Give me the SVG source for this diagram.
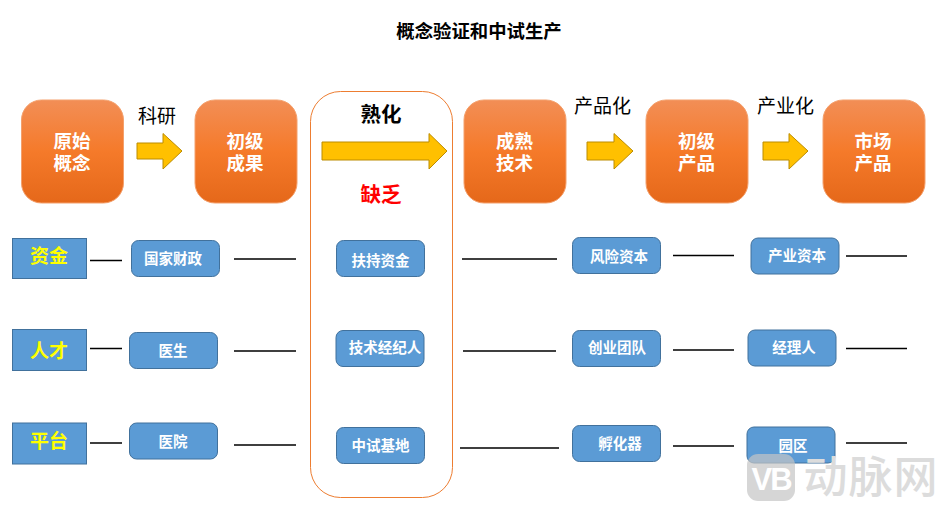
<svg xmlns="http://www.w3.org/2000/svg" width="946" height="511" viewBox="0 0 946 511">
<defs>
<linearGradient id="og" x1="0" y1="0" x2="0" y2="1"><stop offset="0" stop-color="#f28e56"/><stop offset="0.5" stop-color="#f57a2a"/><stop offset="1" stop-color="#e5681a"/></linearGradient>
</defs>
<style>
text{font-family:"Noto Sans CJK SC","Liberation Sans",sans-serif;text-anchor:middle}
.o{fill:url(#og);stroke:#f4a06c;stroke-width:1}
.ot{fill:#fff;font-size:18.500px;font-weight:700}
.b{fill:#5b9bd5;stroke:#41719c;stroke-width:1}
.bt{fill:#fff;font-size:14.500px;font-weight:700}
.c{fill:#5b9bd5;stroke:#41719c;stroke-width:1}
.ct{fill:#ff0;font-size:19px;font-weight:700}
.a{fill:#ffc000;stroke:#bc8c00;stroke-width:1}
.l{font-size:19px;fill:#000}
.ln{stroke:#000;stroke-width:1.3;fill:none}
</style>
<rect width="946" height="511" fill="#fff"/>
<text id="title" x="479" y="38" style="font-size:18.400px;font-weight:700">概念验证和中试生产</text>
<g id="mature-panel">
<rect x="310.500" y="91.500" width="142" height="406" rx="30" fill="#fff" stroke="#ed7d31" stroke-width="1"/>
<text x="381" y="121.500" style="font-size:20.500px;font-weight:700">熟化</text>
<text x="381" y="201.500" style="font-size:20.500px;font-weight:700;fill:#f00">缺乏</text>
</g>
<g id="connectors">
<path class="a" d="M137 143H163V133.500L182 151L163 169V159H137Z"/>
<path class="a" d="M322 142H429V133.500L447 151L429 169V160H322Z"/>
<path class="a" d="M587 142H614V133.500L633 151L614 169V160H587Z"/>
<path class="a" d="M763 142H789V133.500L808 151L789 169V160H763Z"/>
<path class="ln" d="M90 260.500H122M234 259H296M462 259H557M673 255.500H734M846 256H907"/>
<path class="ln" d="M90 348.500H122M234 351H296M463 351H556M673 350H734M846 348.500H907"/>
<path class="ln" d="M90 443H122M234 445H296M460 448H559M673 446H734M846 443H907"/>
</g>
<g id="n1"><rect class="o" x="21.500" y="100" width="102" height="103" rx="20"/><text class="ot" y="148"><tspan x="72">原始</tspan><tspan x="72" dy="22">概念</tspan></text></g>
<g id="n2"><rect class="o" x="195" y="100" width="102" height="103" rx="20"/><text class="ot" y="148"><tspan x="245">初级</tspan><tspan x="245" dy="22">成果</tspan></text></g>
<g id="n3"><rect class="o" x="464" y="100" width="102" height="103" rx="20"/><text class="ot" y="148"><tspan x="514.500">成熟</tspan><tspan x="514.500" dy="22">技术</tspan></text></g>
<g id="n4"><rect class="o" x="646" y="100" width="102" height="103" rx="20"/><text class="ot" y="148"><tspan x="696.500">初级</tspan><tspan x="696.500" dy="22">产品</tspan></text></g>
<g id="n5"><rect class="o" x="823" y="100" width="102" height="103" rx="20"/><text class="ot" y="148"><tspan x="873">市场</tspan><tspan x="873" dy="22">产品</tspan></text></g>
<g id="labels">
<text class="l" x="157" y="122.500">科研</text>
<text class="l" x="602.500" y="113">产品化</text>
<text class="l" x="785.500" y="113">产业化</text>
</g>
<g id="c1"><rect class="c" x="12.500" y="238.500" width="74" height="40"/><text class="ct" x="49" y="263">资金</text></g>
<g id="c2"><rect class="c" x="12.500" y="329.500" width="74" height="41"/><text class="ct" x="49" y="358">人才</text></g>
<g id="c3"><rect class="c" x="12.500" y="423" width="74" height="41"/><text class="ct" x="49" y="448">平台</text></g>
<g id="b11"><rect class="b" x="131.500" y="240.500" width="88" height="36" rx="7"/><text class="bt" x="173" y="264">国家财政</text></g>
<g id="b12"><rect class="b" x="336.500" y="240.500" width="88" height="36" rx="7"/><text class="bt" x="380.500" y="266">扶持资金</text></g>
<g id="b13"><rect class="b" x="572.500" y="237.500" width="88" height="36" rx="7"/><text class="bt" x="619" y="262">风险资本</text></g>
<g id="b14"><rect class="b" x="751" y="238" width="88" height="36" rx="7"/><text class="bt" x="797" y="261">产业资本</text></g>
<g id="b21"><rect class="b" x="129.500" y="332.500" width="88" height="36" rx="7"/><text class="bt" x="173" y="356">医生</text></g>
<g id="b22"><rect class="b" x="336" y="330.500" width="88" height="36" rx="7"/><text class="bt" x="385" y="353">技术经纪人</text></g>
<g id="b23"><rect class="b" x="572.500" y="330.500" width="88" height="36" rx="7"/><text class="bt" x="617" y="353">创业团队</text></g>
<g id="b24"><rect class="b" x="748" y="330" width="88" height="36" rx="7"/><text class="bt" x="794" y="353">经理人</text></g>
<g id="b31"><rect class="b" x="129.500" y="423" width="88" height="36" rx="7"/><text class="bt" x="173" y="447">医院</text></g>
<g id="b32"><rect class="b" x="336.500" y="427.500" width="88" height="36" rx="7"/><text class="bt" x="380.500" y="451">中试基地</text></g>
<g id="b33"><rect class="b" x="572.500" y="425.500" width="88" height="36" rx="7"/><text class="bt" x="620" y="449">孵化器</text></g>
<g id="b34"><rect class="b" x="747" y="427" width="88" height="36" rx="7"/><text class="bt" x="793" y="451">园区</text></g>
<g id="watermark">
<rect x="747" y="454" width="48" height="47" rx="11" fill="#c4c4c4" fill-opacity="0.7"/>
<text x="771" y="490" style="font-size:31px;font-weight:700;fill:#fff;font-family:'Liberation Sans',sans-serif;letter-spacing:-2px">VB</text>
<text x="871" y="493" style="font-size:44px;font-weight:500;fill:#dcdcdc;letter-spacing:1px">动脉网</text>
</g>
</svg>
